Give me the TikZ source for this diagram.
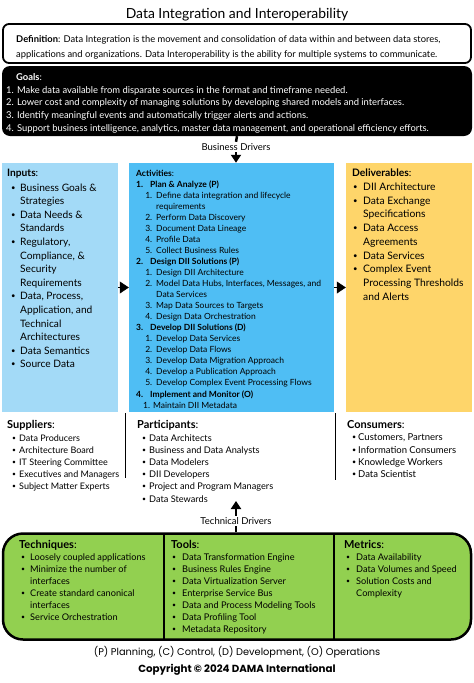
\documentclass[tikz,border=0pt]{standalone}
\usepackage{graphicx}
\usepackage{fontspec}
\setmainfont{Lato}
\newfontfamily\footfont{Poppins}
\usetikzlibrary{arrows.meta,positioning}

\definecolor{inblue}{RGB}{163,218,247}
\definecolor{actblue}{RGB}{79,190,244}
\definecolor{delyellow}{RGB}{254,213,106}
\definecolor{techgreen}{RGB}{146,208,80}

% list helpers
\newcommand{\bdot}{\raisebox{0.1em}{\scalebox{0.75}{\textbullet}}}
\newcommand{\bul}[2]{\hspace*{#1pt}\makebox[#2pt][l]{\bdot}}
\newcommand{\cont}[1]{\hspace*{#1pt}}
\newcommand{\actmain}[2]{\textbf{\makebox[14pt][l]{#1.}#2}}
\newcommand{\actsub}[2]{\makebox[16pt][r]{#1.}\hspace{4pt}#2}

\tikzset{
  colbox/.style={rectangle,inner sep=0pt,minimum height=249pt},
  txt/.style={anchor=north west,inner sep=0pt,align=left},
  drv/.style={inner sep=1.5pt,font=\fontsize{9.5}{10}\selectfont},
  fat/.style={line width=2.5pt},
}

\begin{document}
\begin{tikzpicture}[x=1pt,y=-1pt]
\useasboundingbox (0,0) rectangle (474,683);

\node[font=\fontsize{13.9}{15}\selectfont] (title) at (237,15) {Data Integration and Interoperability};

% definition and goals
\node[draw,line width=1.8pt,rounded corners=6pt,minimum width=468pt,minimum height=39pt] (def) at (237,43.5) {};
\node[txt,font=\fontsize{9.35}{14.7}\selectfont] (deftxt) at (16,35.5) {\textbf{Definition}: Data Integration is the movement and consolidation of data within and between data stores,\\
applications and organizations. Data Interoperability is the ability for multiple systems to communicate.};
\node[fill=black,rounded corners=8pt,minimum width=470pt,minimum height=70pt] (goals) at (237,101) {};
\node[txt,text=white,font=\fontsize{9.4}{12.6}\selectfont] (goaltxt) at (6,73.5) {\cont{10}\textbf{Goals}:\\
1. Make data available from disparate sources in the format and timeframe needed.\\
2. Lower cost and complexity of managing solutions by developing shared models and interfaces.\\
3. Identify meaningful events and automatically trigger alerts and actions.\\
4. Support business intelligence, analytics, master data management, and operational efficiency efforts.};

\node[drv] (bd) at (236,147) {Business Drivers};

% main columns
\node[colbox,fill=inblue,minimum width=116pt] (inp) at (60,287.5) {};
\node[colbox,fill=actblue,minimum width=205pt] (act) at (231.5,287.5) {};
\node[colbox,fill=delyellow,minimum width=126pt] (del) at (409,287.5) {};

\node[txt,font=\fontsize{10.2}{13.6}\selectfont] (inptxt) at (7,168.5) {\textbf{Inputs}:\\[1.4pt]
\bul{4}{9}Business Goals \&\\ \cont{13}Strategies\\
\bul{4}{9}Data Needs \&\\ \cont{13}Standards\\
\bul{4}{9}Regulatory,\\ \cont{13}Compliance, \&\\ \cont{13}Security\\ \cont{13}Requirements\\
\bul{4}{9}Data, Process,\\ \cont{13}Application, and\\ \cont{13}Technical\\ \cont{13}Architectures\\
\bul{4}{9}Data Semantics\\
\bul{4}{9}Source Data};

\node[txt,font=\fontsize{8.5}{11.05}\selectfont] (acttxt) at (136,169.5) {\textbf{Activities}:\\
\actmain{1}{Plan \& Analyze (P)}\\
\actsub{1}{Define data integration and lifecycle}\\ \cont{20}requirements\\
\actsub{2}{Perform Data Discovery}\\
\actsub{3}{Document Data Lineage}\\
\actsub{4}{Profile Data}\\
\actsub{5}{Collect Business Rules}\\
\actmain{2}{Design DII Solutions (P)}\\
\actsub{1}{Design DII Architecture}\\
\actsub{2}{Model Data Hubs, Interfaces, Messages, and}\\ \cont{20}Data Services\\
\actsub{3}{Map Data Sources to Targets}\\
\actsub{4}{Design Data Orchestration}\\
\actmain{3}{Develop DII Solutions (D)}\\
\actsub{1}{Develop Data Services}\\
\actsub{2}{Develop Data Flows}\\
\actsub{3}{Develop Data Migration Approach}\\
\actsub{4}{Develop a Publication Approach}\\
\actsub{5}{Develop Complex Event Processing Flows}\\
\actmain{4}{Implement and Monitor (O)}\\
\cont{7}1. Maintain DII Metadata};

\node[txt,font=\fontsize{10.3}{13.7}\selectfont] (deltxt) at (352,168.5) {\textbf{Deliverables}:\\[0.5pt]
\bul{1}{10}DII Architecture\\
\bul{1}{10}Data Exchange\\ \cont{11}Specifications\\
\bul{1}{10}Data Access\\ \cont{11}Agreements\\
\bul{1}{10}Data Services\\
\bul{1}{10}Complex Event\\ \cont{11}Processing Thresholds\\ \cont{11}and Alerts};

\draw[-{Triangle[length=9pt,width=12pt]}] (inp.east) -- (act.west);
\draw[-{Triangle[length=9pt,width=12pt]}] (act.east) -- (del.west);
\draw[fat] (goals.south) -- (bd.north);
\draw[fat,-{Triangle[length=8pt,width=10pt]}] (bd.south) -- (bd.south |- act.north);

% suppliers, participants, consumers
\node[txt,font=\fontsize{9}{12.2}\selectfont] (sup) at (7,420.5) {{\fontsize{11}{12}\selectfont\textbf{Suppliers}:}\\
\bul{5}{7}Data Producers\\
\bul{5}{7}Architecture Board\\
\bul{5}{7}IT Steering Committee\\
\bul{5}{7}Executives and Managers\\
\bul{5}{7}Subject Matter Experts};
\node[txt,font=\fontsize{9.2}{12.2}\selectfont] (par) at (137,420.5) {{\fontsize{11}{12}\selectfont\textbf{Participants}:}\\
\bul{5}{7}Data Architects\\
\bul{5}{7}Business and Data Analysts\\
\bul{5}{7}Data Modelers\\
\bul{5}{7}DII Developers\\
\bul{5}{7}Project and Program Managers\\
\bul{5}{7}Data Stewards};
\node[txt,font=\fontsize{9.5}{12.2}\selectfont] (con) at (347,420.5) {{\fontsize{11}{12}\selectfont\textbf{Consumers}:}\\
\bul{5}{6}Customers, Partners\\
\bul{5}{6}Information Consumers\\
\bul{5}{6}Knowledge Workers\\
\bul{5}{6}Data Scientist};
\draw[line width=1pt] (125,413) -- (125,478);
\draw[line width=1pt] (335,413) -- (335,480);

% techniques, tools, metrics
\node[drv] (td) at (236,521) {Technical Drivers};
\coordinate (tdtip) at (236,501);
\node[draw,fill=techgreen,line width=2.5pt,rounded corners=20pt,minimum width=468pt,minimum height=106pt] (grn) at (237,586.5) {};
\draw[line width=1.5pt] (164,534) -- (164,639);
\draw[line width=1.5pt] (334,534) -- (334,639);
\draw[fat,-{Triangle[length=8pt,width=10pt]}] (td.north) -- (tdtip);
\draw[fat] (grn.north -| td) -- (td.south);

\node[txt,font=\fontsize{9.2}{12}\selectfont] (tech) at (19,540.5) {{\fontsize{11}{12}\selectfont\textbf{Techniques}:}\\
\bul{2}{9}Loosely coupled applications\\
\bul{2}{9}Minimize the number of\\ \cont{11}interfaces\\
\bul{2}{9}Create standard canonical\\ \cont{11}interfaces\\
\bul{2}{9}Service Orchestration};
\node[txt,font=\fontsize{9.2}{12}\selectfont] (tools) at (171,540.5) {{\fontsize{11}{12}\selectfont\textbf{Tools}:}\\
\bul{1}{10}Data Transformation Engine\\
\bul{1}{10}Business Rules Engine\\
\bul{1}{10}Data Virtualization Server\\
\bul{1}{10}Enterprise Service Bus\\
\bul{1}{10}Data and Process Modeling Tools\\
\bul{1}{10}Data Profiling Tool\\
\bul{1}{10}Metadata Repository};
\node[txt,font=\fontsize{9.2}{12}\selectfont] (met) at (344,540.5) {{\fontsize{11}{12}\selectfont\textbf{Metrics}:}\\
\bul{2}{10}Data Availability\\
\bul{2}{10}Data Volumes and Speed\\
\bul{2}{10}Solution Costs and\\ \cont{12}Complexity};

% footer
\node[font=\footfont\fontsize{9.8}{11}\selectfont] (legend) at (237,652.5) {(P) Planning, (C) Control, (D) Development, (O) Operations};
\node[font=\footfont\bfseries\fontsize{10.3}{11}\selectfont] (copy) at (237,669.5) {Copyright © 2024 DAMA International};
\end{tikzpicture}
\end{document}
